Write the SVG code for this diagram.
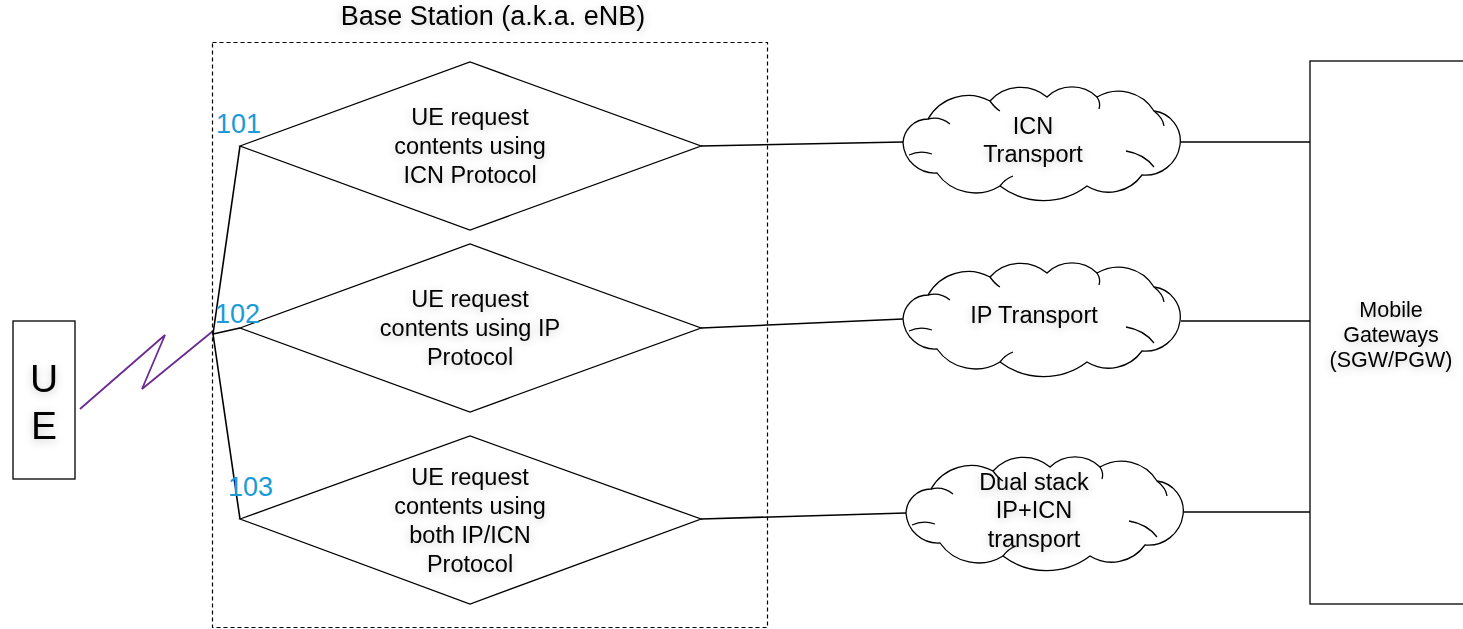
<svg xmlns="http://www.w3.org/2000/svg" xmlns:xlink="http://www.w3.org/1999/xlink" width="1463" height="629" viewBox="0 0 1463 629">
  <style>
    .bg { fill: #ffffff; }
    .shape { fill: #ffffff; stroke: #000000; stroke-width: 1.3; }
    .frame { fill: none; stroke: #000000; stroke-width: 1.2; stroke-dasharray: 4 3; }
    .wire { fill: none; stroke: #000000; stroke-width: 1.6; }
    .radio { fill: none; stroke: #6b2c91; stroke-width: 1.8; stroke-linejoin: miter; }
    .hook { fill: none; stroke: #000000; stroke-width: 1.3; }
    .txt { font-family: "Liberation Sans", Arial, sans-serif; fill: #000000; text-anchor: middle; filter: url(#halo); }
    .t22 { font-size: 23.5px; }
    .t21 { font-size: 21.5px; }
    .title { font-size: 27px; }
    .ue { font-size: 39px; }
    .num { font-family: "Liberation Sans", Arial, sans-serif; font-size: 27px; fill: #1a9bd7; }
  </style>
  <defs>
    <!-- soft grey glow behind labels -->
    <filter id="halo" x="-20%" y="-50%" width="140%" height="200%">
      <feGaussianBlur in="SourceAlpha" stdDeviation="4" result="blur"/>
      <feOffset in="blur" dx="0" dy="2" result="off"/>
      <feFlood flood-color="#000000" flood-opacity="0.22"/>
      <feComposite in2="off" operator="in"/>
      <feMerge>
        <feMergeNode/>
        <feMergeNode in="SourceGraphic"/>
      </feMerge>
    </filter>
    <!-- cloud outline centred on (0,0) -->
    <g id="cloud">
      <path class="shape" d="M -139,0
        A 25 25 0 0 1 -114,-24
        A 46 46 0 0 1 -52,-42
        A 41 41 0 0 1 5,-46
        A 36 36 0 0 1 55,-46
        A 42 42 0 0 1 112,-32
        A 30 30 0 0 1 138,2
        A 35 35 0 0 1 100,32
        A 41 41 0 0 1 45,43
        A 72 72 0 0 1 -42,43
        A 47 47 0 0 1 -105,30
        A 32 32 0 0 1 -139,0 Z"/>
      <path class="hook" d="M -114,-24 Q -102,-27 -92,-19"/>
      <path class="hook" d="M -52,-42 Q -47,-35 -42,-32"/>
      <path class="hook" d="M 55,-46 Q 59,-40 57,-34"/>
      <path class="hook" d="M 112,-32 Q 121,-25 122,-17"/>
      <path class="hook" d="M 112,24 Q 102,11 84,8"/>
      <path class="hook" d="M -42,43 Q -37,36 -29,33"/>
      <path class="hook" d="M -133,12 Q -122,7 -110,11"/>
    </g>
  </defs>

  <rect class="bg" x="0" y="0" width="1463" height="629"/>

  <!-- connectors -->
  <g id="connectors">
    <polyline class="radio" points="80,409 165,335 142,389 213,331"/>
    <line class="wire" x1="213" y1="334" x2="240" y2="146"/>
    <line class="wire" x1="213" y1="334" x2="240" y2="328"/>
    <line class="wire" x1="213" y1="334" x2="240" y2="519"/>
    <line class="wire" x1="701" y1="146" x2="903" y2="142"/>
    <line class="wire" x1="1181" y1="142" x2="1310" y2="142"/>
    <line class="wire" x1="701" y1="328" x2="903" y2="319"/>
    <line class="wire" x1="1181" y1="321" x2="1310" y2="321"/>
    <line class="wire" x1="701" y1="519" x2="906" y2="513"/>
    <line class="wire" x1="1184" y1="512" x2="1310" y2="512"/>
  </g>

  <!-- base station container -->
  <g id="base-station">
    <rect class="frame" x="212.5" y="42.5" width="555" height="585"/>
    <text class="txt title" x="493" y="25">Base Station (a.k.a. eNB)</text>
  </g>

  <!-- user equipment -->
  <g id="ue">
    <rect class="shape" x="13" y="321" width="62" height="158"/>
    <text class="txt ue" x="44" y="392">U</text>
    <text class="txt ue" x="44" y="439">E</text>
  </g>

  <!-- request types -->
  <g id="req-icn">
    <polygon class="shape" points="240,146 470,62 701,146 470,230"/>
    <text class="txt t22" x="470" y="125">UE request</text>
    <text class="txt t22" x="470" y="154">contents using</text>
    <text class="txt t22" x="470" y="183">ICN Protocol</text>
    <text class="num" x="216" y="133">101</text>
  </g>
  <g id="req-ip">
    <polygon class="shape" points="240,328 470,244 701,328 470,412"/>
    <text class="txt t22" x="470" y="307">UE request</text>
    <text class="txt t22" x="470" y="336">contents using IP</text>
    <text class="txt t22" x="470" y="365">Protocol</text>
    <text class="num" x="215" y="323">102</text>
  </g>
  <g id="req-dual">
    <polygon class="shape" points="240,519 470,436 701,519 470,604"/>
    <text class="txt t22" x="470" y="485">UE request</text>
    <text class="txt t22" x="470" y="514">contents using</text>
    <text class="txt t22" x="470" y="543">both IP/ICN</text>
    <text class="txt t22" x="470" y="572">Protocol</text>
    <text class="num" x="228" y="496">103</text>
  </g>

  <!-- transport clouds -->
  <g id="icn-transport">
    <use xlink:href="#cloud" transform="translate(1042,143)"/>
    <text class="txt t22" x="1033" y="134">ICN</text>
    <text class="txt t22" x="1033" y="162">Transport</text>
  </g>
  <g id="ip-transport">
    <use xlink:href="#cloud" transform="translate(1042,319)"/>
    <text class="txt t22" x="1034" y="323">IP Transport</text>
  </g>
  <g id="dual-transport">
    <use xlink:href="#cloud" transform="translate(1045,513)"/>
    <text class="txt t22" x="1034" y="490">Dual stack</text>
    <text class="txt t22" x="1034" y="518">IP+ICN</text>
    <text class="txt t22" x="1034" y="547">transport</text>
  </g>

  <!-- core gateways -->
  <g id="gateways">
    <rect class="shape" x="1310" y="61" width="170" height="543"/>
    <text class="txt t21" x="1391" y="317">Mobile</text>
    <text class="txt t21" x="1391" y="342">Gateways</text>
    <text class="txt t21" x="1391" y="367">(SGW/PGW)</text>
  </g>
</svg>
